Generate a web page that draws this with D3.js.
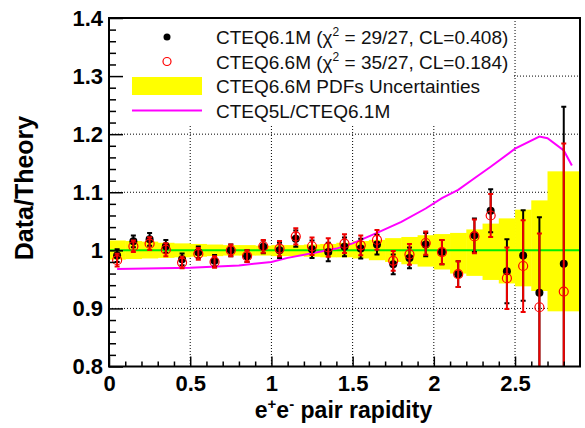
<!DOCTYPE html>
<html>
<head>
<meta charset="utf-8">
<script src="https://cdn.jsdelivr.net/npm/d3@7"></script>
<style>
  html, body { margin: 0; padding: 0; background: #fff; }
  svg { display: block; }
</style>
</head>
<body>
<svg id="chart" width="585" height="428"></svg>
<script>
// ---------------- data ----------------
const rapidity = [0.05,0.15,0.25,0.35,0.45,0.55,0.65,0.75,0.85,0.95,1.05,1.15,1.25,1.35,1.45,1.55,1.65,1.75,1.85,1.95,2.05,2.15,2.25,2.35,2.45,2.55,2.65,2.8];
const binLow  = [0,0.1,0.2,0.3,0.4,0.5,0.6,0.7,0.8,0.9,1.0,1.1,1.2,1.3,1.4,1.5,1.6,1.7,1.8,1.9,2.0,2.1,2.2,2.3,2.4,2.5,2.6,2.7];
const binHigh = [0.1,0.2,0.3,0.4,0.5,0.6,0.7,0.8,0.9,1.0,1.1,1.2,1.3,1.4,1.5,1.6,1.7,1.8,1.9,2.0,2.1,2.2,2.3,2.4,2.5,2.6,2.7,2.9];

const cteq61 = [0.991,1.0155,1.019,1.007,0.9845,0.9966,0.982,1.0,0.99,1.006,1.0,1.02,1.002,0.997,1.006,1.003,1.01,0.976,0.987,1.01,0.997,0.959,1.026,1.068,0.964,0.991,0.927,0.977];
const cteq61Err = [0.011,0.010,0.011,0.011,0.010,0.010,0.010,0.010,0.010,0.011,0.013,0.014,0.015,0.016,0.016,0.017,0.017,0.017,0.018,0.020,0.021,0.022,0.029,0.037,0.055,0.078,0.130,0.270];

const cteq66 = [0.983,1.007,1.0115,1.001,0.979,0.994,0.98,1.0,0.99,1.007,1.003,1.024,1.007,1.005,1.0115,1.0086,1.018,0.982,0.993,1.0126,0.997,0.959,1.024,1.06,0.952,0.973,0.902,0.929];
const cteq66Err = [0.011,0.010,0.011,0.011,0.010,0.010,0.010,0.010,0.010,0.011,0.013,0.014,0.015,0.016,0.016,0.017,0.017,0.017,0.018,0.020,0.021,0.022,0.029,0.037,0.053,0.079,0.127,0.255];

const bandUpper = [1.017,1.016,1.015,1.013,1.012,1.011,1.010,1.009,1.009,1.008,1.009,1.009,1.010,1.011,1.013,1.016,1.018,1.021,1.023,1.026,1.028,1.030,1.036,1.046,1.055,1.070,1.086,1.136];
const bandLower = [0.984,0.985,0.986,0.987,0.988,0.989,0.990,0.991,0.991,0.991,0.990,0.990,0.989,0.988,0.988,0.986,0.983,0.980,0.976,0.972,0.967,0.960,0.956,0.949,0.943,0.938,0.930,0.895];

const ratioX = [0.05,0.5,0.8,1.0,1.1,1.25,1.4,1.5,1.65,1.8,1.95,2.05,2.15,2.25,2.35,2.5,2.65,2.7,2.8,2.85];
const ratioY = [0.968,0.970,0.974,0.980,0.987,0.995,1.003,1.012,1.030,1.049,1.072,1.090,1.104,1.124,1.144,1.175,1.196,1.193,1.172,1.146];

const yMajor = [0.8,0.9,1.0,1.1,1.2,1.3,1.4];
const yMinor = [0.82,0.84,0.86,0.88,0.92,0.94,0.96,0.98,1.02,1.04,1.06,1.08,1.12,1.14,1.16,1.18,1.22,1.24,1.26,1.28,1.32,1.34,1.36,1.38];
const xMajor = [0,0.5,1,1.5,2,2.5];
const xMinor = [0.1,0.2,0.3,0.4,0.6,0.7,0.8,0.9,1.1,1.2,1.3,1.4,1.6,1.7,1.8,1.9,2.1,2.2,2.3,2.4,2.6,2.7,2.8];
const gridY = [0.9,1.0,1.1,1.2,1.3];
const gridX = [0.5,1,1.5,2,2.5];

const legendLabels = ["CTEQ6.1M", "CTEQ6.6M", "CTEQ6.6M PDFs Uncertainties", "CTEQ5L/CTEQ6.1M"];
const chiTexts = [" = 29/27, CL=0.408)", " = 35/27, CL=0.184)"];

// ---------------- layout ----------------
const L = 109, R = 580, T = 18, B = 366.5;
const svg = d3.select("#chart");
const x = d3.scaleLinear().domain([0, 2.9]).range([L, R]);
const y = d3.scaleLinear().domain([0.8, 1.4]).range([B, T]);
const FONT = "'Liberation Sans', Arial, Helvetica, sans-serif";

svg.append("defs").append("clipPath").attr("id", "clip")
  .append("rect").attr("x", L).attr("y", T).attr("width", R - L).attr("height", B - T);

const plot = svg.append("g").attr("clip-path", "url(#clip)");

// grid
plot.selectAll(".gx").data(gridX).join("line")
  .attr("x1", d => x(d)).attr("x2", d => x(d)).attr("y1", T).attr("y2", B)
  .attr("stroke", "#000").attr("stroke-width", 1).attr("stroke-dasharray", "1 2");
plot.selectAll(".gy").data(gridY).join("line")
  .attr("y1", d => y(d)).attr("y2", d => y(d)).attr("x1", L).attr("x2", R)
  .attr("stroke", "#000").attr("stroke-width", 1).attr("stroke-dasharray", "1 2");

// uncertainty band
plot.selectAll(".band").data(d3.range(binLow.length)).join("rect")
  .attr("x", i => x(binLow[i])).attr("width", i => x(binHigh[i]) - x(binLow[i]) + 0.5)
  .attr("y", i => y(bandUpper[i])).attr("height", i => y(bandLower[i]) - y(bandUpper[i]))
  .attr("fill", "#ffff00");

// unity line
plot.append("line").attr("x1", L).attr("x2", R).attr("y1", y(1)).attr("y2", y(1))
  .attr("stroke", "#00ee00").attr("stroke-width", 2);

// CTEQ5L / CTEQ6.1M ratio
plot.append("path")
  .datum(d3.range(ratioX.length))
  .attr("d", d3.line().x(i => x(ratioX[i])).y(i => y(ratioY[i])))
  .attr("fill", "none").attr("stroke", "#ff00ff").attr("stroke-width", 2);

// error bars helper
function errBars(vals, errs, color) {
  const g = plot.append("g").attr("stroke", color).attr("stroke-width", 2);
  const idx = d3.range(vals.length);
  g.selectAll(".v").data(idx).join("line")
    .attr("x1", i => x(rapidity[i])).attr("x2", i => x(rapidity[i]))
    .attr("y1", i => y(vals[i] - errs[i])).attr("y2", i => y(vals[i] + errs[i]));
  g.selectAll(".ct").data(idx).join("line")
    .attr("x1", i => x(rapidity[i]) - 2.5).attr("x2", i => x(rapidity[i]) + 2.5)
    .attr("y1", i => y(vals[i] + errs[i])).attr("y2", i => y(vals[i] + errs[i]));
  g.selectAll(".cb").data(idx).join("line")
    .attr("x1", i => x(rapidity[i]) - 2.5).attr("x2", i => x(rapidity[i]) + 2.5)
    .attr("y1", i => y(vals[i] - errs[i])).attr("y2", i => y(vals[i] - errs[i]));
}

errBars(cteq61, cteq61Err, "#000");
plot.selectAll(".dot").data(d3.range(cteq61.length)).join("circle")
  .attr("cx", i => x(rapidity[i])).attr("cy", i => y(cteq61[i])).attr("r", 4)
  .attr("fill", "#000");
errBars(cteq66, cteq66Err, "#ee0000");
plot.selectAll(".ring").data(d3.range(cteq66.length)).join("circle")
  .attr("cx", i => x(rapidity[i])).attr("cy", i => y(cteq66[i])).attr("r", 4.5)
  .attr("fill", "none").attr("stroke", "#ff0000").attr("stroke-width", 1.2);

// legend
const lg = svg.append("g");
lg.append("rect").attr("x", 111).attr("y", 21).attr("width", 403).attr("height", 103).attr("fill", "#fff");
const rowY = [37, 61.5, 86, 110.5];
lg.append("circle").attr("cx", 167).attr("cy", rowY[0]).attr("r", 3.5).attr("fill", "#000");
lg.append("circle").attr("cx", 167).attr("cy", rowY[1]).attr("r", 4).attr("fill", "none")
  .attr("stroke", "#ff0000").attr("stroke-width", 1.2);
lg.append("rect").attr("x", 132).attr("y", rowY[2] - 9).attr("width", 70).attr("height", 18).attr("fill", "#ffff00");
lg.append("line").attr("x1", 132).attr("x2", 202).attr("y1", rowY[3]).attr("y2", rowY[3])
  .attr("stroke", "#ff00ff").attr("stroke-width", 2);

legendLabels.forEach((lab, k) => {
  const t = lg.append("text").attr("x", 216).attr("y", rowY[k] + 7)
    .attr("font-family", FONT).attr("font-size", 19).attr("fill", "#111");
  if (k < 2) {
    t.append("tspan").text(lab + " (\u03C7");
    t.append("tspan").attr("font-size", 12).attr("dy", -8).text("2");
    t.append("tspan").attr("dy", 8).text(chiTexts[k]);
  } else {
    t.text(lab);
  }
});

// axes
const axG = svg.append("g");
const yAxis = axG.append("g").attr("transform", `translate(${L},0)`)
  .call(d3.axisLeft(y).tickValues(yMajor).tickSize(-14).tickPadding(6).tickFormat(d3.format("~g")));
const yAxisMinor = axG.append("g").attr("transform", `translate(${L},0)`)
  .call(d3.axisLeft(y).tickValues(yMinor).tickSize(-7).tickFormat(""));
const xAxis = axG.append("g").attr("transform", `translate(0,${B})`)
  .call(d3.axisBottom(x).tickValues(xMajor).tickSize(-10).tickPadding(9).tickFormat(d3.format("~g")));
const xAxisMinor = axG.append("g").attr("transform", `translate(0,${B})`)
  .call(d3.axisBottom(x).tickValues(xMinor).tickSize(-5).tickFormat(""));

[yAxis, yAxisMinor, xAxis, xAxisMinor].forEach(g => {
  g.select(".domain").remove();
  g.selectAll(".tick line").attr("stroke", "#000").attr("stroke-width", 1.5);
  g.selectAll("text").attr("font-family", FONT).attr("font-weight", "bold")
    .attr("font-size", 22).attr("fill", "#000");
});

// frame
svg.append("rect").attr("x", L).attr("y", T).attr("width", R - L).attr("height", B - T)
  .attr("fill", "none").attr("stroke", "#000").attr("stroke-width", 2);

// axis titles
const xt = svg.append("text").attr("x", (L + R) / 2 - 1).attr("y", 418)
  .attr("text-anchor", "middle").attr("font-family", FONT).attr("font-weight", "bold")
  .attr("font-size", 23).attr("fill", "#000");
xt.append("tspan").text("e");
xt.append("tspan").attr("font-size", 15).attr("dy", -9).text("+");
xt.append("tspan").attr("dy", 9).text("e");
xt.append("tspan").attr("font-size", 15).attr("dy", -9).text("-");
xt.append("tspan").attr("dy", 9).text(" pair rapidity");

svg.append("text").attr("transform", "translate(33,188) rotate(-90)")
  .attr("text-anchor", "middle").attr("font-family", FONT).attr("font-weight", "bold")
  .attr("font-size", 25).attr("fill", "#000").text("Data/Theory");
</script>
</body>
</html>
